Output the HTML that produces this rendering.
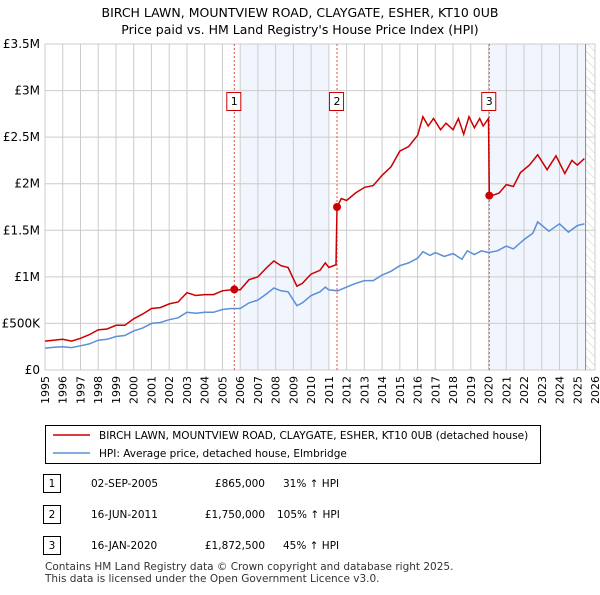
<!DOCTYPE html>
<html><head><meta charset="utf-8"><style>
body{margin:0;background:#fff;font-family:"Liberation Sans","DejaVu Sans",sans-serif;}
svg text{font-family:"DejaVu Sans","Liberation Sans",sans-serif;}
</style></head><body>
<svg id="c" width="600" height="590" viewBox="0 0 600 590" xmlns="http://www.w3.org/2000/svg">
<defs><pattern id="hatch" width="6" height="6" patternUnits="userSpaceOnUse" patternTransform="rotate(-45)"><line x1="0" y1="0" x2="0" y2="6" stroke="#ccc" stroke-width="1"/></pattern></defs>
<text x="300" y="17" text-anchor="middle" font-size="12.5" fill="#000">BIRCH LAWN, MOUNTVIEW ROAD, CLAYGATE, ESHER, KT10 0UB</text>
<text x="300" y="34" text-anchor="middle" font-size="12.5" fill="#000">Price paid vs. HM Land Registry's House Price Index (HPI)</text>
<g id="plot"></g>
<g>
<rect x="45.5" y="425.5" width="495" height="38" fill="#fff" stroke="#000"/>
<line x1="53" y1="435" x2="90" y2="435" stroke="#cc0000" stroke-width="1.5"/>
<text x="99" y="439" font-size="10.5">BIRCH LAWN, MOUNTVIEW ROAD, CLAYGATE, ESHER, KT10 0UB (detached house)</text>
<line x1="53" y1="453" x2="90" y2="453" stroke="#5b8fd6" stroke-width="1.5"/>
<text x="99" y="457" font-size="10.5">HPI: Average price, detached house, Elmbridge</text>
</g>
<g font-size="10.5">
<rect x="43.5" y="474.5" width="17" height="18" fill="#fff" stroke="#000"/><text x="52" y="487" text-anchor="middle">1</text>
<text x="91" y="487">02-SEP-2005</text><text x="265" y="487" text-anchor="end">£865,000</text><text x="283" y="487">31% ↑ HPI</text>
<rect x="43.5" y="505.5" width="17" height="18" fill="#fff" stroke="#000"/><text x="52" y="518" text-anchor="middle">2</text>
<text x="91" y="518">16-JUN-2011</text><text x="265" y="518" text-anchor="end">£1,750,000</text><text x="277" y="518">105% ↑ HPI</text>
<rect x="43.5" y="536.5" width="17" height="18" fill="#fff" stroke="#000"/><text x="52" y="549" text-anchor="middle">3</text>
<text x="91" y="549">16-JAN-2020</text><text x="265" y="549" text-anchor="end">£1,872,500</text><text x="283" y="549">45% ↑ HPI</text>
</g>
<text x="45" y="570" font-size="10.5" fill="#333">Contains HM Land Registry data © Crown copyright and database right 2025.</text>
<text x="45" y="582" font-size="10.5" fill="#333">This data is licensed under the Open Government Licence v3.0.</text>
</svg>
<script>
const hpiYears=[1995,1995.5,1996,1996.5,1997,1997.5,1998,1998.5,1999,1999.5,2000,2000.5,2001,2001.5,2002,2002.5,2003,2003.5,2004,2004.5,2005,2005.5,2006,2006.5,2007,2007.5,2007.9,2008.3,2008.7,2009.2,2009.5,2010,2010.5,2010.8,2011,2011.5,2012,2012.5,2013,2013.5,2014,2014.5,2015,2015.5,2016,2016.3,2016.7,2017,2017.5,2018,2018.5,2018.8,2019.2,2019.6,2020,2020.5,2021,2021.4,2022,2022.5,2022.77,2023.4,2024,2024.5,2025,2025.4];
const hpiValues=[0.235,0.245,0.25,0.24,0.26,0.28,0.32,0.33,0.36,0.37,0.42,0.45,0.5,0.51,0.54,0.56,0.62,0.61,0.62,0.62,0.65,0.66,0.66,0.72,0.75,0.82,0.88,0.85,0.84,0.69,0.72,0.8,0.84,0.89,0.86,0.85,0.89,0.93,0.96,0.96,1.02,1.06,1.12,1.15,1.2,1.27,1.23,1.26,1.22,1.25,1.19,1.28,1.24,1.28,1.26,1.28,1.33,1.3,1.4,1.47,1.59,1.49,1.57,1.48,1.55,1.57];
const priceYears=[1995,1996,1996.5,1997,1997.5,1998,1998.5,1999,1999.5,2000,2000.5,2001,2001.5,2002,2002.5,2003,2003.5,2004,2004.5,2005,2005.67,2006,2006.5,2007,2007.5,2007.9,2008.3,2008.7,2009.2,2009.5,2010,2010.5,2010.8,2011,2011.4,2011.46,2011.7,2012,2012.5,2013,2013.5,2014,2014.5,2015,2015.5,2016,2016.3,2016.6,2016.9,2017.3,2017.6,2018,2018.3,2018.6,2018.9,2019.2,2019.5,2019.7,2020,2020.04,2020.3,2020.6,2021,2021.4,2021.8,2022.3,2022.77,2023.3,2023.8,2024.3,2024.7,2025,2025.4];
const priceValues=[0.31,0.33,0.31,0.34,0.38,0.43,0.44,0.48,0.48,0.55,0.6,0.66,0.67,0.71,0.73,0.83,0.8,0.81,0.81,0.85,0.865,0.86,0.97,1.0,1.1,1.17,1.12,1.1,0.9,0.93,1.03,1.07,1.15,1.1,1.13,1.75,1.84,1.82,1.9,1.96,1.98,2.09,2.18,2.35,2.4,2.52,2.72,2.62,2.7,2.58,2.65,2.58,2.7,2.53,2.72,2.6,2.7,2.62,2.7,1.8725,1.88,1.9,1.99,1.97,2.12,2.2,2.31,2.15,2.3,2.11,2.25,2.2,2.27];
const saleYears=[2005.67,2011.46,2020.04];
const saleValues=[0.865,1.75,1.8725];
const saleLabels=["1","2","3"];
const yTicks=[0,0.5,1,1.5,2,2.5,3,3.5];
const yTickLabels=["£0","£500K","£1M","£1.5M","£2M","£2.5M","£3M","£3.5M"];
const xTicks=[1995,1996,1997,1998,1999,2000,2001,2002,2003,2004,2005,2006,2007,2008,2009,2010,2011,2012,2013,2014,2015,2016,2017,2018,2019,2020,2021,2022,2023,2024,2025,2026];
const shadeBands=[[2006,2011],[2020,2025.47]];
const dataEnd=2025.47;

const L=45,R=595,T=44,B=370;
const X=y=>L+(y-1995)/(2026-1995)*(R-L);
const Y=v=>B-v/3.5*(B-T);
const NS="http://www.w3.org/2000/svg";
const g=document.getElementById('plot');
function mk(t,a){const e=document.createElementNS(NS,t);for(const k in a)e.setAttribute(k,a[k]);g.appendChild(e);return e;}
const bg=mk('rect',{x:L,y:T,width:R-L,height:B-T,fill:'#fff'});


shadeBands.forEach(b=>{const r=mk('rect',{x:X(b[0]),y:T,width:X(b[1])-X(b[0]),height:B-T,fill:'#eef3fd',opacity:0.8});

});
const h=mk('rect',{x:X(dataEnd),y:T,width:R-X(dataEnd),height:B-T,fill:'url(#hatch)'});


xTicks.forEach(t=>{const l=mk('line',{x1:X(t),x2:X(t),y1:T,y2:B,stroke:'#ccc','stroke-width':1});


const tx=mk('text',{x:0,y:0,'font-size':11,'text-anchor':'end',transform:`translate(${X(t)+4},${B+6}) rotate(-90)`});tx.textContent=t;

});
yTicks.forEach((t,i)=>{const l=mk('line',{x1:L,x2:R,y1:Y(t),y2:Y(t),stroke:'#ccc','stroke-width':1});


const tx=mk('text',{x:L-5,y:Y(t)+4,'font-size':12,'text-anchor':'end'});tx.textContent=yTickLabels[i];

});
const al=mk('line',{x1:X(dataEnd),x2:X(dataEnd),y1:T,y2:B,stroke:'#888','stroke-width':1});


saleYears.forEach((s,i)=>{const l=mk('line',{x1:X(s),x2:X(s),y1:T,y2:B,stroke:'#e05050','stroke-width':1,'stroke-dasharray':'2,2'});

});
const pts=(xs,vs)=>xs.map((x,i)=>X(x).toFixed(1)+','+Y(vs[i]).toFixed(1)).join(' ');
const hp=mk('polyline',{points:pts(hpiYears,hpiValues),fill:'none',stroke:'#5b8fd6','stroke-width':1.5});


const pp=mk('polyline',{points:pts(priceYears,priceValues),fill:'none',stroke:'#cc0000','stroke-width':1.5});


saleYears.forEach((s,i)=>{const c=mk('circle',{cx:X(s),cy:Y(saleValues[i]),r:4,fill:'#cc0000'});


const bx=X(s)-7;
const r=mk('rect',{x:bx-0.5,y:92.5,width:14,height:18,fill:'#fff',stroke:'#cc0000'});


const t=mk('text',{x:X(s),y:105,'font-size':11,'text-anchor':'middle'});t.textContent=saleLabels[i];

});
</script>
</body></html>
